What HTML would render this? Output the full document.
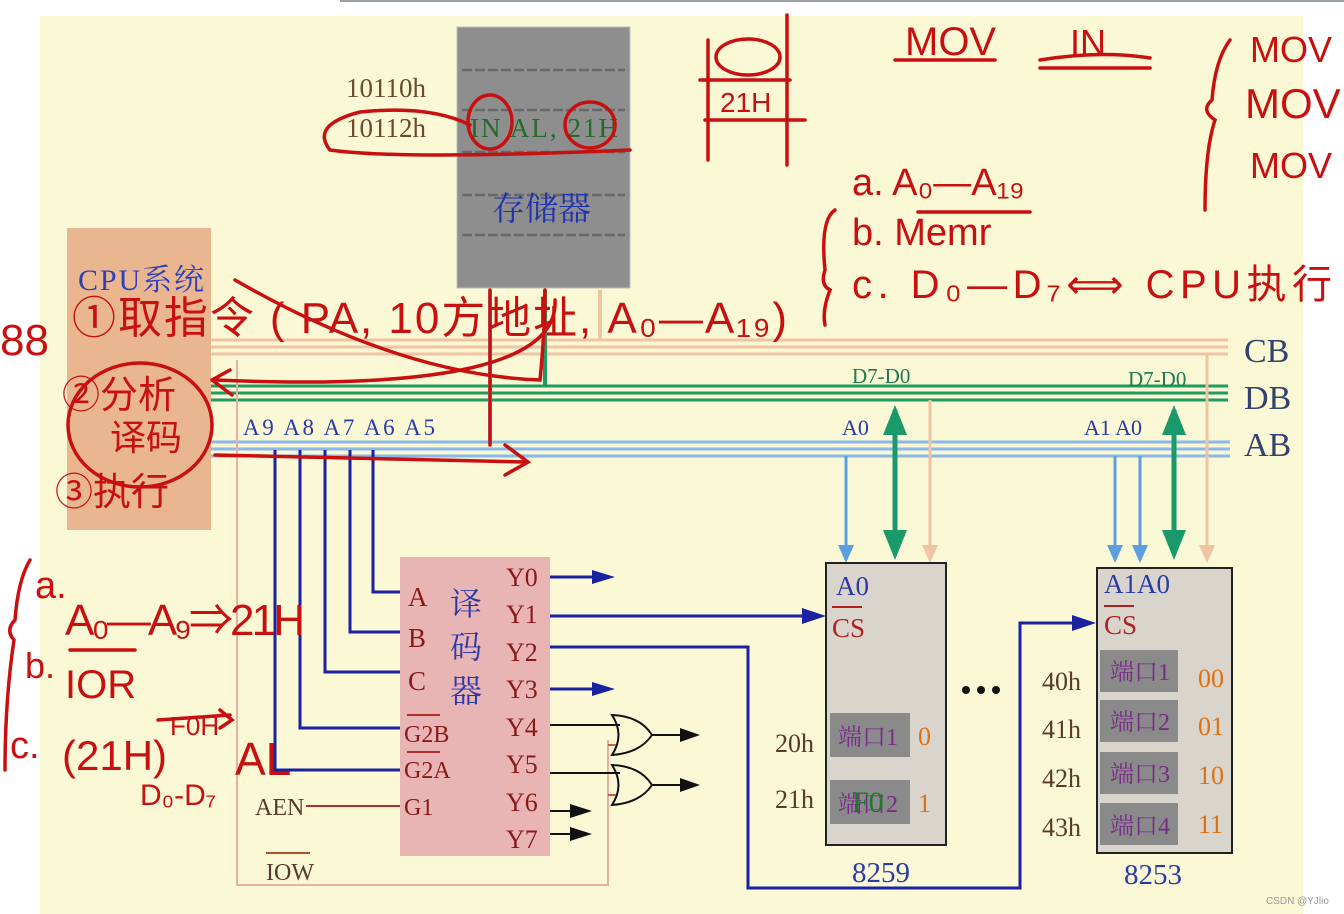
<!DOCTYPE html>
<html><head><meta charset="utf-8"><style>
html,body{margin:0;padding:0;background:#fff;}
svg{display:block;}
.s{font-family:"Liberation Serif","Noto Serif CJK SC",serif;}
.h{font-family:"Liberation Sans","Noto Sans CJK SC",sans-serif;fill:#c81010;}
</style></head><body>
<svg width="1344" height="914" viewBox="0 0 1344 914" xmlns="http://www.w3.org/2000/svg">
<rect x="0" y="0" width="1344" height="914" fill="#fff"/>
<line x1="340" y1="1" x2="1344" y2="1" stroke="#9aa0a8" stroke-width="2"/>
<rect x="40" y="16" width="1263" height="898" fill="#fbf8d6"/>

<!-- memory -->
<rect x="457" y="27" width="173" height="261" fill="#8e8e8e" stroke="#bcbcbc"/>
<g stroke="#686868" stroke-width="2.5" stroke-dasharray="10,3">
<line x1="462" y1="70" x2="625" y2="70"/><line x1="462" y1="110" x2="625" y2="110"/>
<line x1="462" y1="152" x2="625" y2="152"/><line x1="462" y1="195" x2="625" y2="195"/>
<line x1="462" y1="235" x2="625" y2="235"/></g>
<text x="346" y="97" class="s" font-size="27" fill="#6b4a30">10110h</text>
<text x="346" y="137" class="s" font-size="27" fill="#6b4a30">10112h</text>
<text x="470" y="137" class="s" font-size="27" fill="#236b2b" textLength="148">IN AL, 21H</text>
<text x="492" y="220" class="s" font-size="33" fill="#2233b0">存储器</text>

<!-- CPU -->
<rect x="67" y="228" width="144" height="302" fill="#e9b690"/>
<text x="78" y="290" class="s" font-size="30" fill="#2f3fb8" textLength="126">CPU系统</text>

<!-- buses -->
<g stroke="#f0c3a3" stroke-width="3"><line x1="211" y1="340" x2="1228" y2="340"/><line x1="211" y1="347" x2="1228" y2="347"/><line x1="211" y1="354" x2="1228" y2="354"/></g>
<g stroke="#1f9a60" stroke-width="3"><line x1="211" y1="386" x2="1228" y2="386"/><line x1="211" y1="393" x2="1228" y2="393"/><line x1="211" y1="400" x2="1228" y2="400"/></g>
<g stroke="#8ab8e8" stroke-width="3"><line x1="211" y1="442" x2="1230" y2="442"/><line x1="211" y1="449" x2="1230" y2="449"/><line x1="211" y1="456" x2="1230" y2="456"/></g>
<text x="1244" y="362" class="s" font-size="34" fill="#34426e">CB</text>
<text x="1244" y="409" class="s" font-size="34" fill="#34426e">DB</text>
<text x="1244" y="456" class="s" font-size="34" fill="#34426e">AB</text>
<text x="243" y="435" class="s" font-size="23" fill="#2a3aa8" textLength="192">A9 A8 A7 A6 A5</text>
<line x1="490" y1="290" x2="490" y2="442" stroke="#8ab8e8" stroke-width="4"/>
<line x1="545" y1="290" x2="545" y2="386" stroke="#1f9a60" stroke-width="4"/>
<line x1="600" y1="290" x2="600" y2="340" stroke="#f0c3a3" stroke-width="4"/>
<text x="852" y="383" class="s" font-size="21" fill="#1f7a50">D7-D0</text>
<text x="1128" y="386" class="s" font-size="21" fill="#1f7a50">D7-D0</text>
<text x="842" y="435" class="s" font-size="22" fill="#2a3aa8">A0</text>
<text x="1084" y="435" class="s" font-size="22" fill="#2a3aa8">A1 A0</text>

<g stroke-width="3">
<line x1="846" y1="456" x2="846" y2="555" stroke="#5aa0e0"/>
<line x1="930" y1="400" x2="930" y2="555" stroke="#f0c3a3"/>
<line x1="1115" y1="456" x2="1115" y2="560" stroke="#5aa0e0"/>
<line x1="1140" y1="456" x2="1140" y2="560" stroke="#5aa0e0"/>
<line x1="1207" y1="354" x2="1207" y2="560" stroke="#f0c3a3"/>
</g>
<g stroke="#1a9a6a" stroke-width="5"><line x1="895" y1="410" x2="895" y2="550"/><line x1="1174" y1="410" x2="1174" y2="550"/></g>
<g fill="#1a9a6a"><polygon points="883,435 907,435 895,405"/><polygon points="883,530 907,530 895,560"/><polygon points="1162,435 1186,435 1174,405"/><polygon points="1162,530 1186,530 1174,560"/></g>
<g fill="#5aa0e0"><polygon points="838,545 854,545 846,563"/><polygon points="1107,545 1123,545 1115,563"/><polygon points="1132,545 1148,545 1140,563"/></g>
<g fill="#f0c3a3"><polygon points="922,545 938,545 930,563"/><polygon points="1199,545 1215,545 1207,563"/></g>

<path d="M237 360 V885 H608 V740" fill="none" stroke="#e8b0a0" stroke-width="2"/>
<g stroke="#1a22a0" stroke-width="3" fill="none">
<path d="M275 450 V770 H400"/><path d="M300 450 V728 H400"/><path d="M325 450 V672 H400"/>
<path d="M350 450 V632 H400"/><path d="M373 450 V592 H400"/>
</g>
<line x1="306" y1="806" x2="400" y2="806" stroke="#b03030" stroke-width="2"/>
<text x="255" y="815" class="s" font-size="24" fill="#5a3a2a">AEN</text>
<text x="266" y="880" class="s" font-size="24" fill="#5a3a2a">IOW</text>
<line x1="266" y1="853" x2="310" y2="853" stroke="#b05030" stroke-width="2"/>

<!-- decoder -->
<rect x="400" y="557" width="150" height="299" fill="#e9b4b4"/>
<g class="s" font-size="27" fill="#8a1a1a">
<text x="408" y="606">A</text><text x="408" y="647">B</text><text x="408" y="690">C</text>
<text x="404" y="742" font-size="24">G2B</text><text x="404" y="778" font-size="24">G2A</text><text x="404" y="815" font-size="24">G1</text></g>
<line x1="407" y1="715" x2="440" y2="715" stroke="#b03030" stroke-width="2"/><line x1="407" y1="752" x2="440" y2="752" stroke="#b03030" stroke-width="2"/>
<g class="s" font-size="32" fill="#2a3aa8"><text x="450" y="615">译</text><text x="450" y="658">码</text><text x="450" y="702">器</text></g>
<g class="s" font-size="26" fill="#8a1a1a">
<text x="506" y="586">Y0</text><text x="506" y="623">Y1</text><text x="506" y="661">Y2</text><text x="506" y="698">Y3</text>
<text x="506" y="736">Y4</text><text x="506" y="773">Y5</text><text x="506" y="811">Y6</text><text x="506" y="848">Y7</text></g>
<g stroke="#1a22a0" stroke-width="3" fill="none">
<line x1="550" y1="577" x2="600" y2="577"/><line x1="550" y1="689" x2="600" y2="689"/>
<line x1="550" y1="616" x2="810" y2="616"/>
<path d="M550 647 H748 V888 H1020 V623 H1080"/></g>
<g fill="#1a22a0"><polygon points="592,570 615,577 592,584"/><polygon points="592,682 615,689 592,696"/><polygon points="802,608 826,616 802,624"/><polygon points="1072,615 1096,623 1072,631"/></g>
<g stroke="#111" stroke-width="2" fill="none">
<line x1="550" y1="725" x2="620" y2="725"/><line x1="550" y1="773" x2="620" y2="773"/>
<path d="M612 715 Q640 716 652 735 Q640 753 612 755 Q625 735 612 715Z"/>
<path d="M612 765 Q640 766 652 785 Q640 803 612 805 Q625 785 612 765Z"/>
<line x1="652" y1="735" x2="690" y2="735"/><line x1="652" y1="785" x2="690" y2="785"/>
<line x1="550" y1="811" x2="580" y2="811"/><line x1="550" y1="834" x2="580" y2="834"/></g>
<g fill="#111"><polygon points="680,728 700,735 680,742"/><polygon points="680,778 700,785 680,792"/><polygon points="570,804 592,811 570,818"/><polygon points="570,827 592,834 570,841"/></g>
<path d="M608 745 H616 M608 795 H616" stroke="#c06040" stroke-width="2"/>

<!-- 8259 -->
<rect x="826" y="563" width="120" height="282" fill="#d9d5cd" stroke="#222" stroke-width="2"/>
<text x="836" y="595" class="s" font-size="27" fill="#2a3aa8">A0</text>
<line x1="832" y1="607" x2="862" y2="607" stroke="#b02020" stroke-width="2"/>
<text x="832" y="637" class="s" font-size="27" fill="#b02020">CS</text>
<rect x="830" y="713" width="80" height="44" fill="#8a8a8a"/>
<rect x="830" y="780" width="80" height="44" fill="#8a8a8a"/>
<text x="838" y="745" class="s" font-size="24" fill="#7a2a8a">端口1</text>
<text x="838" y="812" class="s" font-size="24" fill="#7a2a8a">端口2</text>
<text x="852" y="812" class="s" font-size="30" fill="#1a7a2a">F0</text>
<text x="918" y="745" class="s" font-size="26" fill="#e07010">0</text>
<text x="918" y="812" class="s" font-size="26" fill="#e07010">1</text>
<text x="775" y="752" class="s" font-size="26" fill="#5a3a2a">20h</text>
<text x="775" y="808" class="s" font-size="26" fill="#5a3a2a">21h</text>
<text x="852" y="882" class="s" font-size="29" fill="#2a3aa8">8259</text>
<g fill="#111"><circle cx="966" cy="690" r="4"/><circle cx="981" cy="690" r="4"/><circle cx="996" cy="690" r="4"/></g>

<!-- 8253 -->
<rect x="1097" y="568" width="135" height="285" fill="#d9d5cd" stroke="#222" stroke-width="2"/>
<text x="1104" y="593" class="s" font-size="27" fill="#2a3aa8">A1A0</text>
<line x1="1104" y1="606" x2="1134" y2="606" stroke="#b02020" stroke-width="2"/>
<text x="1104" y="634" class="s" font-size="27" fill="#b02020">CS</text>
<g fill="#8a8a8a"><rect x="1100" y="650" width="78" height="42"/><rect x="1100" y="700" width="78" height="42"/><rect x="1100" y="752" width="78" height="42"/><rect x="1100" y="803" width="78" height="42"/></g>
<g class="s" font-size="24" fill="#7a2a8a"><text x="1110" y="680">端口1</text><text x="1110" y="730">端口2</text><text x="1110" y="782">端口3</text><text x="1110" y="834">端口4</text></g>
<g class="s" font-size="26" fill="#e07010"><text x="1198" y="687">00</text><text x="1198" y="735">01</text><text x="1198" y="784">10</text><text x="1198" y="833">11</text></g>
<g class="s" font-size="26" fill="#5a3a2a"><text x="1042" y="690">40h</text><text x="1042" y="738">41h</text><text x="1042" y="787">42h</text><text x="1042" y="836">43h</text></g>
<text x="1124" y="884" class="s" font-size="29" fill="#2a3aa8">8253</text>
<text x="1266" y="904" font-family="Liberation Sans,sans-serif" font-size="10" fill="#999">CSDN @YJlio</text>

<!-- handwriting -->
<g stroke="#c81010" stroke-width="3.5" fill="none" stroke-linecap="round">
<path d="M470 125 Q430 105 360 112 Q310 125 330 150 Q400 160 630 150"/>
<ellipse cx="490" cy="122" rx="22" ry="27"/><ellipse cx="590" cy="125" rx="25" ry="23"/>
<path d="M235 280 Q400 375 540 380 Q545 330 545 290"/>
<path d="M215 455 L525 462 M505 445 L528 462 L505 475"/>
<path d="M490 290 V445"/>
<path d="M215 380 Q560 395 555 300"/>
<ellipse cx="140" cy="425" rx="72" ry="62"/>
<path d="M212 380 L230 370 M212 380 L232 395"/>
<path d="M708 40 V160 M787 15 V165 M700 80 H790 M705 120 H805"/>
<ellipse cx="748" cy="57" rx="32" ry="18"/>
<path d="M895 60 H995 M1040 60 Q1100 50 1150 58 M1040 68 H1150"/>
<path d="M1230 40 Q1215 60 1212 100 Q1200 110 1215 120 Q1205 150 1205 210"/>
<path d="M835 210 Q820 220 825 270 Q820 285 830 290 Q822 310 825 325"/>
<path d="M918 212 H1030"/>
<path d="M30 560 Q18 580 15 620 Q5 630 14 640 Q5 700 5 770"/>
<path d="M70 650 H135 M158 720 Q230 715 230 715 M220 710 L232 720 L220 728"/>
</g>
<g class="h">
<text x="720" y="112" font-size="28">21H</text>
<text x="905" y="55" font-size="40">MOV</text>
<text x="1070" y="55" font-size="36">IN</text>
<text x="1250" y="62" font-size="36">MOV</text>
<text x="1245" y="118" font-size="42">MOV</text>
<text x="1250" y="178" font-size="36">MOV</text>
<text x="852" y="195" font-size="38">a. A₀—A₁₉</text>
<text x="852" y="245" font-size="38">b. Memr</text>
<text x="852" y="298" font-size="40" textLength="480">c. D₀—D₇⟺ CPU执行</text>
<text x="72" y="333" font-size="44" textLength="715">①取指令 ( PA, 10方地址,  A₀—A₁₉)</text>
<text x="0" y="355" font-size="44">88</text>
<text x="62" y="408" font-size="38">②分析</text>
<text x="110" y="450" font-size="36">译码</text>
<text x="55" y="505" font-size="38">③执行</text>
<text x="35" y="598" font-size="38">a.</text>
<text x="65" y="635" font-size="44" textLength="240">A₀—A₉⇒21H</text>
<text x="25" y="678" font-size="36">b.</text>
<text x="65" y="698" font-size="40">IOR</text>
<text x="10" y="758" font-size="38">c.</text>
<text x="62" y="770" font-size="42">(21H)</text>
<text x="170" y="735" font-size="26">F0H</text>
<text x="235" y="775" font-size="46">AL</text>
<text x="140" y="805" font-size="30">D₀-D₇</text>
</g>
</svg>
</body></html>
